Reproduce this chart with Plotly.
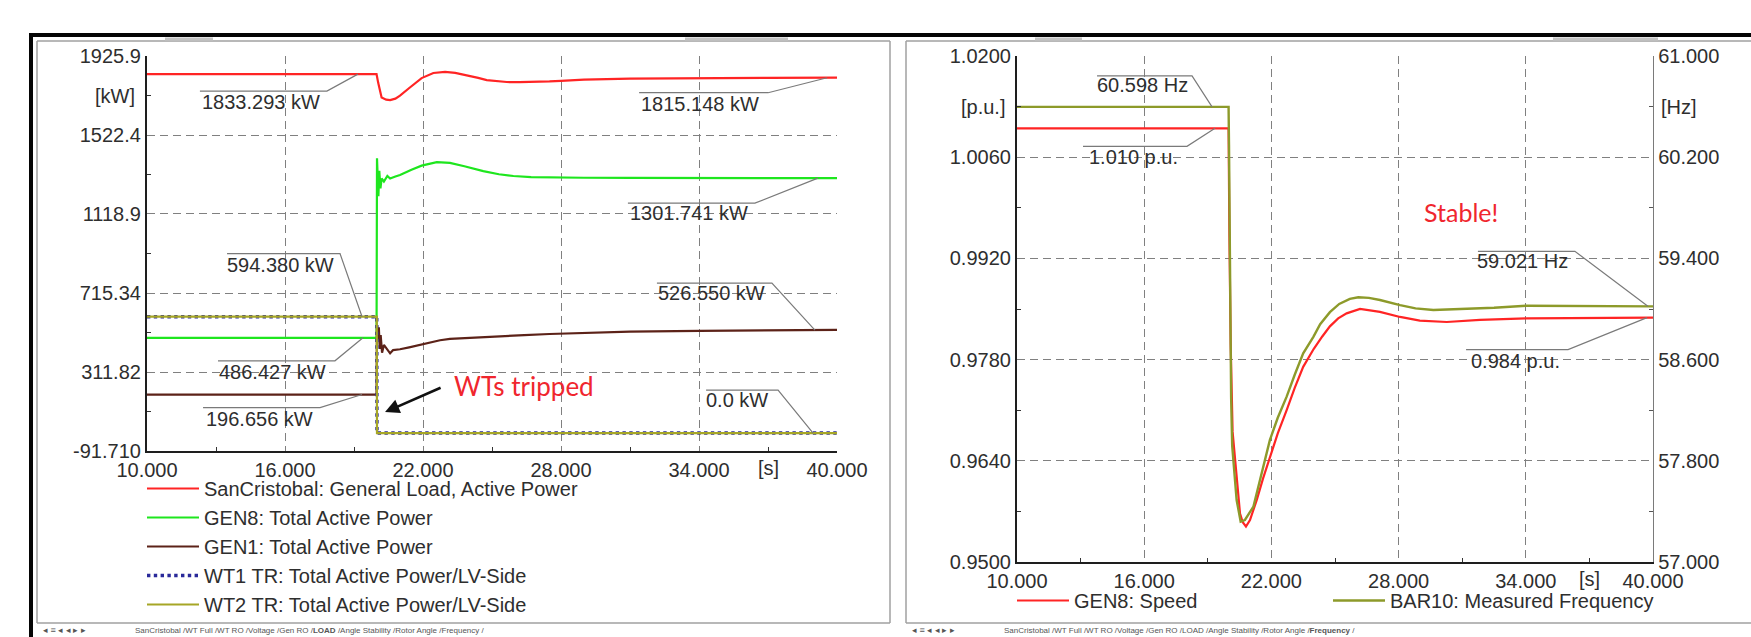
import numpy as np
import plotly.graph_objects as go

# ---------------- data ----------------
# Left panel "LOAD": time [s] / active power [kW]
t_load = [10.0, 19.98, 20.05, 20.2, 20.4, 20.57, 20.8, 21.0, 21.43, 21.94, 22.45, 22.96, 23.4,
          23.9, 24.4, 24.77, 25.2, 25.64, 26.2, 26.8, 27.5, 28.0, 29.0, 31.0, 34.0, 37.0, 40.0]
p_load = [1833.29, 1833.29, 1790, 1714, 1703, 1701, 1708, 1723, 1765, 1813, 1839, 1845, 1840,
          1828, 1814, 1803, 1797, 1793, 1792, 1793, 1796, 1799, 1805, 1810, 1813, 1814, 1815.15]

t_gen8 = [10.0, 19.98, 20.0, 20.03, 20.06, 20.1, 20.15, 20.2, 20.3, 20.45, 20.57, 20.8, 21.0, 21.5,
          21.94, 22.6, 23.17, 23.8, 24.62, 25.3, 25.93, 26.7, 27.5, 29.0, 31.0, 34.0, 37.0, 40.0]
p_gen8 = [486.43, 486.43, 1403, 1300, 1210, 1340, 1250, 1300, 1285, 1313, 1300, 1310, 1318, 1345,
          1366, 1384, 1380, 1363, 1338, 1322, 1313, 1307, 1305, 1304, 1303, 1302, 1302, 1301.74]

t_gen1 = [10.0, 19.98, 20.0, 20.04, 20.08, 20.12, 20.16, 20.22, 20.3, 20.45, 20.57, 20.7, 21.0, 21.4,
          21.87, 22.3, 22.74, 23.17, 23.9, 24.6, 25.35, 26.4, 27.5, 29.0, 31.0, 34.0, 37.0, 40.0]
p_gen1 = [196.66, 196.66, 552, 480, 540, 430, 500, 410, 450, 424, 407, 424, 428, 438,
          450, 463, 474, 481, 486, 490, 493, 500, 506, 512, 518, 522, 525, 526.55]

t_wt = [10.0, 19.99, 20.0, 40.0]
p_wt1 = [594.38, 594.38, 0.0, 0.0]
p_wt2 = [594.38, 594.38, 0.0, 0.0]

# Right panel "Frequency": GEN8 speed [p.u.] and BAR10 frequency [Hz]
t_spd = [10.0, 19.98, 20.02, 20.08, 20.17, 20.28, 20.4, 20.52, 20.65, 20.8, 20.99, 21.31, 21.6,
         21.93, 22.3, 22.72, 23.1, 23.5, 24.0, 24.4, 24.76, 25.15, 25.55, 26.18, 27.12, 28.07,
         29.0, 30.27, 31.84, 34.04, 37.0, 40.0]
v_spd = [1.0100, 1.0100, 0.9950, 0.9800, 0.9680, 0.9646, 0.9600, 0.9567, 0.9555, 0.9549, 0.9558,
         0.9586, 0.9615, 0.9646, 0.9678, 0.9710, 0.9741, 0.9770, 0.9795, 0.9812, 0.9826, 0.9837,
         0.9844, 0.9850, 0.9846, 0.9839, 0.9834, 0.9832, 0.9835, 0.9837, 0.9838, 0.9838]

t_frq = [10.0, 19.98, 20.0, 20.05, 20.1, 20.15, 20.25, 20.36, 20.55, 20.75, 21.15, 21.5, 21.93,
         22.3, 22.72, 23.1, 23.5, 23.98, 24.3, 24.76, 25.2, 25.7, 26.1, 26.6, 27.12, 28.07, 28.8,
         29.64, 31.05, 32.5, 34.04, 37.0, 40.0]
f_frq = [60.598, 60.598, 60.30, 59.00, 58.30, 57.92, 57.70, 57.49, 57.319, 57.332, 57.437, 57.68,
         57.965, 58.14, 58.307, 58.48, 58.650, 58.78, 58.88, 58.975, 59.04, 59.08, 59.093, 59.088,
         59.071, 59.031, 59.005, 58.992, 58.998, 59.010, 59.026, 59.024, 59.021]

x_ticks = [10, 16, 22, 28, 34, 40]
x_ticktext = ["10.000", "16.000", "22.000", "28.000", "34.000", "40.000"]
kw_ticks = [-91.71, 311.82, 715.34, 1118.9, 1522.4, 1925.9]
kw_ticktext = ["-91.710", "311.82", "715.34", "1118.9", "1522.4", "1925.9"]
pu_ticks = [0.95, 0.964, 0.978, 0.992, 1.006, 1.02]
pu_ticktext = ["0.9500", "0.9640", "0.9780", "0.9920", "1.0060", "1.0200"]
hz_ticks = [57.0, 57.8, 58.6, 59.4, 60.2, 61.0]
hz_ticktext = ["57.000", "57.800", "58.600", "59.400", "60.200", "61.000"]

# ---------------- layout constants ----------------
W, H = 1751, 637
FONT = "Liberation Sans, Arial, sans-serif"
TXT = "#2e2e2e"
FS = 20
GRID = "#808080"
DASH = "8px,5px"

def PX(x):
    return x / W

def PY(y):
    return 1 - y / H

fig = go.Figure()

# ---------------- traces: left ----------------
fig.add_trace(go.Scatter(x=t_load, y=p_load, mode="lines", name="SanCristobal: General Load, Active Power",
                         line=dict(color="#ff2424", width=2.2), xaxis="x", yaxis="y", legend="legend"))
fig.add_trace(go.Scatter(x=t_gen8, y=p_gen8, mode="lines", name="GEN8: Total Active Power",
                         line=dict(color="#1ee61e", width=2.2), xaxis="x", yaxis="y", legend="legend"))
fig.add_trace(go.Scatter(x=t_gen1, y=p_gen1, mode="lines", name="GEN1: Total Active Power",
                         line=dict(color="#5c2218", width=2.2), xaxis="x", yaxis="y", legend="legend"))
fig.add_trace(go.Scatter(x=t_wt, y=p_wt1, mode="lines", name="WT1 TR: Total Active Power/LV-Side",
                         line=dict(color="#2a2a9a", width=3.4, dash="dot"), xaxis="x", yaxis="y",
                         legend="legend"))
fig.add_trace(go.Scatter(x=t_wt, y=p_wt2, mode="lines", name="WT2 TR: Total Active Power/LV-Side",
                         line=dict(color="#a6a626", width=2.2), xaxis="x", yaxis="y", legend="legend"))

# ---------------- traces: right ----------------
fig.add_trace(go.Scatter(x=t_spd, y=v_spd, mode="lines", name="GEN8: Speed",
                         line=dict(color="#ff2424", width=2.2), xaxis="x2", yaxis="y2", legend="legend2"))
fig.add_trace(go.Scatter(x=t_frq, y=f_frq, mode="lines", name="BAR10: Measured Frequency",
                         line=dict(color="#8d9a2a", width=2.4), xaxis="x2", yaxis="y3", legend="legend3"))

axis_common = dict(
    showgrid=True, gridcolor=GRID, gridwidth=1.1, griddash=DASH, zeroline=False, automargin=False,
    tickfont=dict(family=FONT, size=FS, color=TXT), ticks="", tickmode="array",
)

legend_common = dict(xanchor="left", yanchor="top", orientation="v", bgcolor="rgba(0,0,0,0)",
                     borderwidth=0, font=dict(family=FONT, size=FS, color=TXT), itemwidth=52)

fig.update_layout(
    width=W, height=H, margin=dict(l=0, r=0, t=0, b=0, autoexpand=False),
    paper_bgcolor="white", plot_bgcolor="white",
    font=dict(family=FONT, size=FS, color=TXT),
    xaxis=dict(axis_common, domain=[PX(147), PX(837)], anchor="y", range=[10, 40],
               tickvals=x_ticks, ticktext=x_ticktext, showline=True, linecolor="#1e1e1e", linewidth=2.2,
               minor=dict(tickmode="array", tickvals=[13, 19, 25, 31, 37], ticks="inside", ticklen=4,
                          tickcolor="#333", showgrid=False)),
    yaxis=dict(axis_common, domain=[PY(451), PY(56)], anchor="x", range=[-91.71, 1925.9],
               tickvals=kw_ticks, ticktext=kw_ticktext, showline=True, linecolor="#1e1e1e", linewidth=2.2,
               minor=dict(tickmode="array",
                          tickvals=[(a + b) / 2 for a, b in zip(kw_ticks[:-1], kw_ticks[1:])],
                          ticks="inside", ticklen=4, tickcolor="#333", showgrid=False)),
    xaxis2=dict(axis_common, domain=[PX(1017), PX(1653)], anchor="y2", range=[10, 40],
                tickvals=x_ticks, ticktext=x_ticktext, showline=True, linecolor="#1e1e1e", linewidth=2.2,
                minor=dict(tickmode="array", tickvals=[13, 19, 25, 31, 37], ticks="inside", ticklen=4,
                           tickcolor="#333", showgrid=False)),
    yaxis2=dict(axis_common, domain=[PY(562), PY(56)], anchor="x2", range=[0.95, 1.02],
                tickvals=pu_ticks, ticktext=pu_ticktext, showline=True, linecolor="#1e1e1e", linewidth=2.2,
                minor=dict(tickmode="array",
                           tickvals=[(a + b) / 2 for a, b in zip(pu_ticks[:-1], pu_ticks[1:])],
                           ticks="inside", ticklen=4, tickcolor="#333", showgrid=False)),
    yaxis3=dict(axis_common, overlaying="y2", side="right", anchor="x2", range=[57, 61],
                tickvals=hz_ticks, ticktext=hz_ticktext, showgrid=False, showline=True,
                linecolor="#7a7a7a", linewidth=1.4,
                minor=dict(tickmode="array",
                           tickvals=[(a + b) / 2 for a, b in zip(hz_ticks[:-1], hz_ticks[1:])],
                           ticks="inside", ticklen=4, tickcolor="#555", showgrid=False)),
    legend=dict(legend_common, x=PX(142), y=PY(469), traceorder="normal"),
    legend2=dict(legend_common, x=PX(1012), y=PY(581)),
    legend3=dict(legend_common, x=PX(1328), y=PY(581)),
    showlegend=True,
)

shapes = []
annotations = []

# ---------------- value labels with leader lines ----------------
# (xref, yref, t_anchor, series_t, series_v, text, line_dy, line_dx0, line_dx1, text_dx, text_dy)
labels = [
    ("x", "y", 19.17, t_load, p_load, "1833.293 kW", -17, -158, -31, -97, -28),
    ("x", "y", 39.57, t_load, p_load, "1815.148 kW", -15, -188, -59, -127, -26),
    ("x", "y", 39.17, t_gen8, p_gen8, "1301.741 kW", -25, -190, -63, -129, -35),
    ("x", "y", 39.04, t_gen1, p_gen1, "526.550 kW", 47, -158, -43, -103, 37),
    ("x", "y", 38.96, t_wt, p_wt1, "0.0 kW", 43, -107, -35, -76, 33),
    ("x", "y", 19.35, t_wt, p_wt2, "594.380 kW", 63, -135, -22, -82, 52),
    ("x", "y", 19.39, t_gen8, p_gen8, "486.427 kW", -23, -145, -28, -90, -34),
    ("x", "y", 19.35, t_gen1, p_gen1, "196.656 kW", -13, -159, -42, -103, -24),
    ("x2", "y3", 19.20, t_frq, f_frq, "60.598 Hz", 31, -115, -20, -70, 22),
    ("x2", "y2", 19.34, t_spd, v_spd, "1.010 p.u.", -18, -132, -28, -82, -29),
    ("x2", "y3", 39.76, t_frq, f_frq, "59.021 Hz", 55, -170, -73, -125, 45),
    ("x2", "y2", 39.72, t_spd, v_spd, "0.984 p.u.", -32, -181, -79, -132, -43),
]
for xr, yr, ta, ts, vs, text, ldy, lx0, lx1, tdx, tdy in labels:
    va = float(np.interp(ta, ts, vs))
    shapes.append(dict(type="path", xref=xr, yref=yr, xsizemode="pixel", ysizemode="pixel",
                       xanchor=ta, yanchor=va,
                       path=f"M{lx0},{ldy} L{lx1},{ldy} L0,0",
                       line=dict(color="#7a7a7a", width=1.2), layer="above"))
    annotations.append(dict(xref=xr, yref=yr, x=ta, y=va, xshift=tdx, yshift=tdy, text=text,
                            showarrow=False, xanchor="center", yanchor="middle",
                            font=dict(family=FONT, size=FS, color=TXT)))

# ---------------- unit labels ----------------
annotations += [
    dict(xref="x", yref="y", x=10, y=(kw_ticks[-1] + kw_ticks[-2]) / 2, xshift=-10, text="[kW]",
         showarrow=False, xanchor="right", yanchor="middle", font=dict(family=FONT, size=FS, color=TXT)),
    dict(xref="x2", yref="y2", x=10, y=(pu_ticks[-1] + pu_ticks[-2]) / 2, xshift=-10, text="[p.u.]",
         showarrow=False, xanchor="right", yanchor="middle", font=dict(family=FONT, size=FS, color=TXT)),
    dict(xref="x2", yref="y3", x=40, y=(hz_ticks[-1] + hz_ticks[-2]) / 2, xshift=6, text="[Hz]",
         showarrow=False, xanchor="left", yanchor="middle", font=dict(family=FONT, size=FS, color=TXT)),
    dict(xref="x", yref="y", x=37, y=kw_ticks[0], yshift=-17, text="[s]", showarrow=False, xanchor="center",
         yanchor="middle", font=dict(family=FONT, size=FS, color=TXT)),
    dict(xref="x2", yref="y2", x=37, y=pu_ticks[0], yshift=-17, text="[s]", showarrow=False,
         xanchor="center", yanchor="middle", font=dict(family=FONT, size=FS, color=TXT)),
]

# ---------------- callouts ----------------
annotations += [
    dict(xref="x", yref="y", x=26.39, y=240, text="WTs tripped", showarrow=False, xanchor="center",
         yanchor="middle", font=dict(family="Lato, Open Sans, sans-serif", size=26, color="#f0262e")),
    dict(xref="x", yref="y", x=20.35, y=107, ax=22.83, ay=235, axref="x", ayref="y", text="",
         showarrow=True, arrowhead=2, arrowsize=1.1, arrowwidth=2.6, arrowcolor="#111"),
    dict(xref="x2", yref="y2", x=30.94, y=0.9984, text="Stable!", showarrow=False, xanchor="center",
         yanchor="middle", font=dict(family="Lato, Open Sans, sans-serif", size=25, color="#f0262e")),
]

# ---------------- window frames ----------------
def pline(x0, y0, x1, y1, color, width):
    shapes.append(dict(type="line", xref="paper", yref="paper", x0=PX(x0), y0=PY(y0), x1=PX(x1), y1=PY(y1),
                       line=dict(color=color, width=width), layer="above"))

pline(29, 35, 1751, 35, "#050505", 4)
pline(31, 35, 31, 637, "#050505", 4)
pline(37, 41, 890, 41, "#a0a0a0", 1.5)
pline(37, 41, 37, 623, "#a0a0a0", 1.5)
pline(890, 41, 890, 623, "#a0a0a0", 1.5)
pline(37, 623, 890, 623, "#a0a0a0", 1.5)
pline(906, 41, 1751, 41, "#a0a0a0", 1.5)
pline(906, 41, 906, 623, "#a0a0a0", 1.5)
pline(906, 623, 1751, 623, "#a0a0a0", 1.5)
for a, b in [(165, 213), (685, 788), (1035, 1082), (1553, 1658)]:
    pline(a, 39, b, 39, "#c4c4c4", 3)

# tab strips
tabs_left = "SanCristobal /WT Full /WT RO /Voltage /Gen RO /<b>LOAD</b> /Angle Stability /Rotor Angle /Frequency /"
tabs_right = "SanCristobal /WT Full /WT RO /Voltage /Gen RO /LOAD /Angle Stability /Rotor Angle /<b>Frequency</b> /"
for x0, txt in [(37, tabs_left), (906, tabs_right)]:
    annotations.append(dict(xref="paper", yref="paper", x=PX(x0 + 4), y=PY(630), text="◂ ≡ ◂ ◂ ▸ ▸",
                            showarrow=False, xanchor="left", yanchor="middle",
                            font=dict(family=FONT, size=9, color="#555")))
    annotations.append(dict(xref="paper", yref="paper", x=PX(x0 + 96), y=PY(630), text=txt,
                            showarrow=False, xanchor="left", yanchor="middle",
                            font=dict(family=FONT, size=8, color="#555")))

fig.update_layout(shapes=shapes, annotations=annotations)

fig.write_html("out.html", config={"displayModeBar": False},
               post_script="document.body.style.margin='0';document.body.style.overflow='hidden';")
